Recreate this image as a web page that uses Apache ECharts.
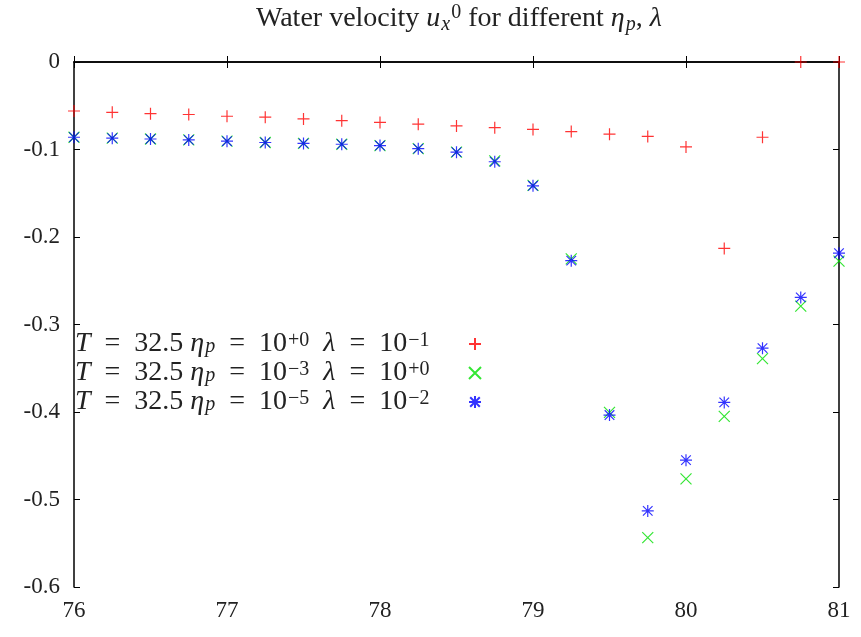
<!DOCTYPE html>
<html><head><meta charset="utf-8">
<script src="https://cdn.jsdelivr.net/npm/echarts@6/dist/echarts.min.js"></script>
<style>html,body{margin:0;padding:0;background:#fff}#c{width:861px;height:637px}</style>
</head><body><div id="c"></div>
<script>
const xValues = [76,76.25,76.5,76.75,77,77.25,77.5,77.75,78,78.25,78.5,78.75,79,79.25,79.5,79.75,80,80.25,80.5,80.75,81];
const redValues = [-0.056,-0.0575,-0.059,-0.060,-0.062,-0.063,-0.065,-0.067,-0.069,-0.071,-0.073,-0.075,-0.077,-0.0795,-0.0825,-0.085,-0.097,-0.213,-0.086,0,0];
const greenValues = [-0.086,-0.087,-0.088,-0.089,-0.0905,-0.092,-0.093,-0.094,-0.0955,-0.099,-0.103,-0.113,-0.141,-0.225,-0.4005,-0.5435,-0.4765,-0.405,-0.339,-0.279,-0.2275];
const blueValues = [-0.086,-0.087,-0.088,-0.089,-0.0905,-0.092,-0.093,-0.094,-0.0955,-0.099,-0.103,-0.114,-0.1415,-0.227,-0.4035,-0.513,-0.455,-0.389,-0.327,-0.269,-0.2185];
const seriesNames = ['red', 'green', 'blue'];
const S = '\u2002';
function legendLine(e1, e2){
  return '{i|T}{n|' + S + '=' + S + '32.5 }{i|η}{sub|p}{n|' + S + '=' + S + '10}{sup|' + e1 + '}{n|' + S + '}{i|λ}{n|' + S + '=' + S + '10}{sup|' + e2 + '}';
}
const legendTexts = {
  red: legendLine('+0', '−1'),
  green: legendLine('−3', '+0'),
  blue: legendLine('−5', '−2')
};
const titleText = '{n|Water velocity }{i|u}{sub|x}{sup|0}{n| for different }{i|η}{sub|p}{n|, }{i|λ}';

const FONT = 'Liberation Serif';
const plusPath = 'path://M0,5L10,5M5,0L5,10';
const crossPath = 'path://M0,0L10,10M0,10L10,0';
const starPath = 'path://M0,5L10,5M5,0L5,10M1,1L9,9M1,9L9,1';

function pairs(vals){ return xValues.map((x,i)=>[x, vals[i]]); }
function richSet(size, lh){
  return {
    n: {fontFamily: FONT, fontSize: size, color: '#222', align: 'left', lineHeight: lh},
    i: {fontFamily: FONT, fontSize: size, fontStyle: 'italic', color: '#222', align: 'left', lineHeight: lh},
    sup: {fontFamily: FONT, fontSize: Math.round(size*0.7), color: '#222', align: 'left', verticalAlign: 'top', lineHeight: lh, padding: [0,0,0,1]},
    sub: {fontFamily: FONT, fontSize: Math.round(size*0.7), fontStyle: 'italic', color: '#222', align: 'left', verticalAlign: 'bottom', lineHeight: lh - 4, padding: [0,0,0,1]}
  };
}
const axisLine = {show: true, lineStyle: {color: '#000', width: 1.5}};
const chart = echarts.init(document.getElementById('c'));
chart.setOption({
  animation: false,
  backgroundColor: '#fff',
  title: {
    text: titleText, left: 256, top: -2, padding: [5, 0, 5, 0],
    textStyle: {fontFamily: FONT, fontSize: 28, fontWeight: 'normal', rich: richSet(28, 32)}
  },
  grid: {left: 74, right: 22, top: 62, bottom: 50},
  legend: {
    data: seriesNames, orient: 'vertical', left: 70, top: 325, align: 'right',
    itemWidth: 12, itemHeight: 12, itemGap: 1,
    formatter: n => legendTexts[n],
    textStyle: {width: 389, fontFamily: FONT, fontSize: 28, color: '#222', rich: richSet(28, 26)}
  },
  xAxis: [
    {type: 'value', min: 76, max: 81, interval: 1, position: 'bottom',
     axisLine, axisTick: {inside: true, length: 6, lineStyle: {color: '#000'}},
     axisLabel: {fontFamily: FONT, fontSize: 23, color: '#222', margin: 12},
     splitLine: {show: false}},
    {type: 'value', min: 76, max: 81, interval: 1, position: 'top',
     axisLine, axisTick: {inside: true, length: 6, lineStyle: {color: '#000'}},
     axisLabel: {show: false}, splitLine: {show: false}}
  ],
  yAxis: [
    {type: 'value', min: -0.6, max: 0, interval: 0.1, position: 'left',
     axisLine, axisTick: {inside: true, length: 6, lineStyle: {color: '#000'}},
     axisLabel: {fontFamily: FONT, fontSize: 23, color: '#222', margin: 14,
       formatter: v => v === 0 ? '0' : v.toFixed(1)},
     splitLine: {show: false}},
    {type: 'value', min: -0.6, max: 0, interval: 0.1, position: 'right',
     axisLine, axisTick: {inside: true, length: 6, lineStyle: {color: '#000'}},
     axisLabel: {show: false}, splitLine: {show: false}}
  ],
  series: [
    {name: 'red', type: 'scatter', data: pairs(redValues), symbol: plusPath, symbolSize: 12, clip: false,
     itemStyle: {color: 'rgba(0,0,0,0)', borderColor: '#ff0000', borderWidth: 1.2}},
    {name: 'green', type: 'scatter', data: pairs(greenValues), symbol: crossPath, symbolSize: 11, clip: false,
     itemStyle: {color: 'rgba(0,0,0,0)', borderColor: '#00e000', borderWidth: 1.2}},
    {name: 'blue', type: 'scatter', data: pairs(blueValues), symbol: starPath, symbolSize: 12, clip: false,
     itemStyle: {color: 'rgba(0,0,0,0)', borderColor: '#0000ff', borderWidth: 1.2}}
  ]
});
</script></body></html>
